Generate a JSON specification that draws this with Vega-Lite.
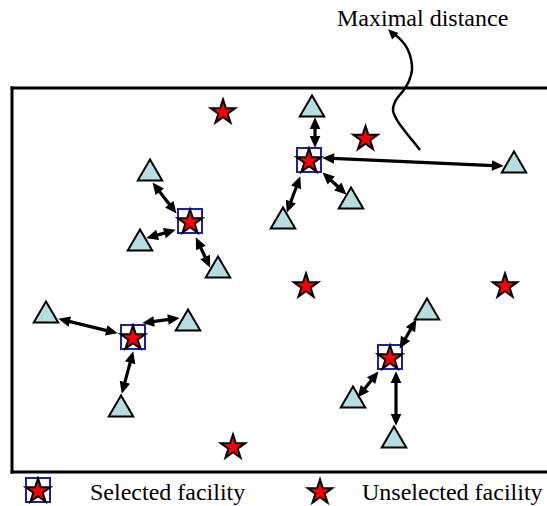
{
  "$schema": "https://vega.github.io/schema/vega-lite/v6.json",
  "width": 547,
  "height": 506,
  "autosize": "none",
  "padding": 0,
  "background": "white",
  "config": {"view": {"stroke": null}},
  "datasets": {
    "frame": [
      {"x": 12, "y": 88, "x2": 547, "y2": 88},
      {"x": 12, "y": 88, "x2": 12, "y2": 472},
      {"x": 12, "y": 472, "x2": 547, "y2": 472}
    ],
    "arrows": [
      {"x": 315, "y": 122, "x2": 315, "y2": 143},
      {"x": 327, "y": 158.2, "x2": 499, "y2": 165.8},
      {"x": 326, "y": 175.7, "x2": 343, "y2": 191.3},
      {"x": 298.6, "y": 180.8, "x2": 288.4, "y2": 208.2},
      {"x": 155.4, "y": 186.2, "x2": 173.6, "y2": 209.8},
      {"x": 150.8, "y": 236.9, "x2": 171.2, "y2": 231.1},
      {"x": 197.8, "y": 241.6, "x2": 208.2, "y2": 263.4},
      {"x": 62.9, "y": 319.9, "x2": 113.1, "y2": 332.1},
      {"x": 147, "y": 322.4, "x2": 175, "y2": 318.6},
      {"x": 132, "y": 355.9, "x2": 123, "y2": 389.1},
      {"x": 402, "y": 344.5, "x2": 414, "y2": 323.5},
      {"x": 375.5, "y": 375.1, "x2": 360.5, "y2": 393.9},
      {"x": 396, "y": 376, "x2": 396, "y2": 421}
    ],
    "pointer": [{"x": 397, "y": 38, "x2": 391, "y2": 32}],
    "curve": [
      {"i": 1, "x": 420, "y": 150},
      {"i": 2, "x": 412, "y": 140},
      {"i": 3, "x": 404, "y": 130},
      {"i": 4, "x": 397, "y": 120},
      {"i": 5, "x": 393, "y": 110},
      {"i": 6, "x": 396, "y": 100},
      {"i": 7, "x": 403, "y": 91},
      {"i": 8, "x": 409, "y": 81},
      {"i": 9, "x": 412, "y": 70},
      {"i": 10, "x": 411, "y": 59},
      {"i": 11, "x": 407, "y": 48},
      {"i": 12, "x": 401, "y": 40},
      {"i": 13, "x": 393, "y": 33}
    ],
    "demand": [
      {"x": 312, "y": 106},
      {"x": 514, "y": 162},
      {"x": 351, "y": 198},
      {"x": 283, "y": 218},
      {"x": 150, "y": 170},
      {"x": 140, "y": 240},
      {"x": 218, "y": 267},
      {"x": 46, "y": 312},
      {"x": 188, "y": 320},
      {"x": 121, "y": 406},
      {"x": 427, "y": 309},
      {"x": 353, "y": 397},
      {"x": 394, "y": 437}
    ],
    "facilities": [
      {"x": 309, "y": 160, "selected": true},
      {"x": 190, "y": 221, "selected": true},
      {"x": 133, "y": 337, "selected": true},
      {"x": 390, "y": 357, "selected": true},
      {"x": 38, "y": 490, "selected": true},
      {"x": 223, "y": 111, "selected": false},
      {"x": 365.5, "y": 137.5, "selected": false},
      {"x": 306, "y": 285, "selected": false},
      {"x": 505, "y": 285, "selected": false},
      {"x": 233, "y": 446, "selected": false},
      {"x": 320, "y": 491, "selected": false}
    ],
    "labels": [
      {"x": 337, "y": 26, "label": "Maximal distance"},
      {"x": 90, "y": 500, "label": "Selected facility"},
      {"x": 362, "y": 500, "label": "Unselected facility"}
    ]
  },
  "encoding": {
    "x": {"field": "x", "type": "quantitative", "scale": {"domain": [0, 547], "nice": false, "zero": false}, "axis": null},
    "y": {"field": "y", "type": "quantitative", "scale": {"domain": [0, 506], "nice": false, "zero": false, "reverse": true}, "axis": null}
  },
  "layer": [
    {
      "data": {"name": "frame"},
      "mark": {"type": "rule", "color": "black", "strokeWidth": 3, "strokeCap": "square"},
      "encoding": {"x2": {"field": "x2"}, "y2": {"field": "y2"}}
    },
    {
      "data": {"name": "curve"},
      "mark": {"type": "line", "color": "black", "strokeWidth": 2.5, "interpolate": "catmull-rom"},
      "encoding": {"order": {"field": "i", "type": "quantitative"}}
    },
    {
      "data": {"name": "pointer"},
      "transform": [{"calculate": "atan2(datum.x2 - datum.x, datum.y - datum.y2) * 180 / PI", "as": "a"}],
      "mark": {"type": "point", "shape": "M0,-0.8L0.9,1.2L-0.9,1.2Z", "filled": true, "color": "black", "opacity": 1, "size": 100},
      "encoding": {
        "x": {"field": "x2", "type": "quantitative"},
        "y": {"field": "y2", "type": "quantitative"},
        "angle": {"field": "a", "type": "quantitative", "scale": null}
      }
    },
    {
      "data": {"name": "demand"},
      "mark": {"type": "point", "shape": "triangle-up", "filled": true, "fill": "#B7DEDF", "stroke": "black", "strokeWidth": 2, "opacity": 1, "size": 600}
    },
    {
      "data": {"name": "facilities"},
      "transform": [{"filter": "datum.selected"}],
      "mark": {"type": "point", "shape": "square", "filled": false, "stroke": "#1F1FA6", "strokeWidth": 2, "opacity": 1, "size": 576}
    },
    {
      "data": {"name": "facilities"},
      "mark": {"type": "point", "shape": "M0,-0.905L0.2245,-0.214L0.951,-0.214L0.363,0.213L0.588,0.904L0,0.477L-0.588,0.904L-0.363,0.213L-0.951,-0.214L-0.2245,-0.214Z", "filled": true, "fill": "#FF0000", "stroke": "black", "strokeWidth": 2, "opacity": 1, "size": 660}
    },
    {
      "data": {"name": "arrows"},
      "mark": {"type": "rule", "color": "black", "strokeWidth": 3.2},
      "encoding": {"x2": {"field": "x2"}, "y2": {"field": "y2"}}
    },
    {
      "data": {"name": "arrows"},
      "transform": [{"calculate": "atan2(datum.x2 - datum.x, datum.y - datum.y2) * 180 / PI", "as": "a"}],
      "mark": {"type": "point", "shape": "M0,-0.8L0.9,1.2L-0.9,1.2Z", "filled": true, "color": "black", "opacity": 1, "size": 140},
      "encoding": {
        "x": {"field": "x2", "type": "quantitative"},
        "y": {"field": "y2", "type": "quantitative"},
        "angle": {"field": "a", "type": "quantitative", "scale": null}
      }
    },
    {
      "data": {"name": "arrows"},
      "transform": [{"calculate": "atan2(datum.x - datum.x2, datum.y2 - datum.y) * 180 / PI", "as": "a"}],
      "mark": {"type": "point", "shape": "M0,-0.8L0.9,1.2L-0.9,1.2Z", "filled": true, "color": "black", "opacity": 1, "size": 140},
      "encoding": {
        "angle": {"field": "a", "type": "quantitative", "scale": null}
      }
    },
    {
      "data": {"name": "labels"},
      "mark": {"type": "text", "font": "Liberation Serif", "fontSize": 24, "align": "left", "baseline": "alphabetic", "color": "black"},
      "encoding": {"text": {"field": "label"}}
    }
  ]
}
